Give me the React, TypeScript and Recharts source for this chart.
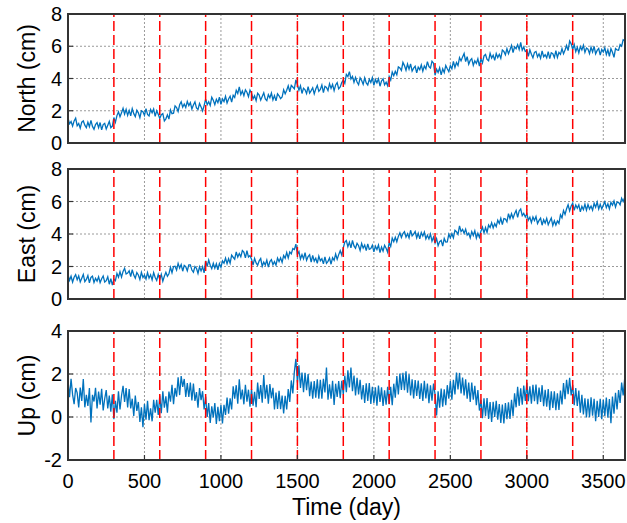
import { LineChart, Line, XAxis, YAxis, CartesianGrid, ReferenceLine } from 'recharts';

// daily GNSS position residuals, sampled every STEP days
const STEP = 10;

const north = [
  1.55, 1.19, 1.33, 1.05, 1.37, 1.54, 1.07, 1.21, 0.92, 1.29, 1.37, 1.11, 0.95, 1.29, 1.01, 1.40, 1.03, 0.85, 1.14, 1.26,
  0.95, 1.27, 0.81, 1.14, 1.22, 0.87, 1.10, 1.34, 0.95, 1.05, 1.58, 1.28, 1.70, 1.93, 1.63, 1.87, 2.15, 1.79, 2.09, 1.71,
  2.02, 1.69, 2.13, 1.82, 1.64, 2.03, 1.87, 1.57, 2.00, 1.94, 1.71, 2.13, 1.77, 1.68, 2.08, 1.87, 2.11, 1.65, 2.00, 1.78,
  1.52, 1.75, 1.82, 1.37, 1.50, 1.75, 1.48, 2.05, 1.82, 1.85, 2.30, 2.20, 1.95, 2.37, 2.56, 2.22, 2.42, 2.20, 2.58, 2.32,
  2.50, 2.11, 2.36, 2.55, 2.17, 2.08, 2.45, 2.24, 1.99, 2.32, 2.72, 2.37, 2.56, 2.33, 2.84, 2.65, 2.38, 2.71, 2.50, 2.84,
  2.40, 2.73, 2.57, 2.89, 2.48, 2.73, 2.90, 2.53, 2.96, 2.83, 3.27, 3.07, 3.48, 3.00, 3.23, 2.94, 3.30, 3.15, 2.87, 3.28,
  3.10, 2.74, 2.93, 2.63, 3.09, 2.97, 2.66, 2.88, 3.11, 2.73, 2.63, 3.00, 2.80, 3.10, 2.67, 2.94, 2.61, 3.05, 2.93, 2.75,
  2.85, 3.30, 3.05, 3.27, 3.55, 3.18, 3.57, 3.47, 3.36, 3.92, 3.63, 3.27, 3.55, 3.07, 3.40, 3.30, 3.06, 3.49, 3.10, 3.25,
  3.43, 3.05, 3.35, 3.57, 3.20, 3.32, 3.60, 3.13, 3.52, 3.45, 3.25, 3.68, 3.39, 3.63, 3.25, 3.60, 3.75, 3.36, 3.47, 3.75,
  3.90, 3.70, 4.25, 4.12, 4.43, 3.97, 4.13, 3.76, 4.07, 3.78, 3.61, 4.04, 3.88, 3.64, 4.04, 3.73, 3.60, 3.95, 3.75, 4.05,
  3.58, 3.94, 3.73, 3.98, 3.52, 3.85, 3.98, 3.61, 3.77, 3.55, 4.12, 3.90, 4.40, 4.17, 4.45, 4.23, 4.72, 4.65, 4.50, 5.00,
  4.80, 4.51, 4.90, 4.58, 4.91, 4.46, 4.64, 4.76, 4.35, 4.70, 4.55, 4.84, 4.45, 4.78, 4.60, 5.05, 4.74, 4.65, 5.07, 4.95,
  4.20, 4.58, 4.37, 4.67, 4.23, 4.60, 4.37, 4.80, 4.60, 4.42, 4.80, 4.60, 5.06, 4.68, 4.99, 4.80, 5.30, 5.09, 5.34, 5.55,
  5.05, 5.35, 4.88, 5.12, 5.23, 4.82, 5.10, 4.93, 5.22, 4.77, 5.22, 4.97, 5.40, 5.49, 5.18, 5.10, 5.56, 5.27, 5.45, 5.12,
  5.55, 5.30, 5.50, 5.25, 5.77, 5.68, 5.47, 5.85, 5.53, 5.78, 6.05, 5.61, 5.96, 5.85, 6.10, 5.80, 6.24, 5.75, 5.95, 5.68,
  5.75, 5.38, 5.78, 5.50, 5.28, 5.62, 5.68, 5.34, 5.53, 5.25, 5.71, 5.35, 5.47, 5.28, 5.67, 5.23, 5.60, 5.54, 5.30, 5.72,
  5.30, 5.62, 5.50, 5.85, 5.53, 5.77, 6.05, 5.73, 6.33, 6.15, 5.80, 6.10, 5.66, 5.93, 5.59, 5.98, 5.77, 6.06, 5.62, 5.89,
  5.82, 5.54, 5.94, 5.65, 5.99, 5.53, 5.74, 5.86, 5.45, 5.80, 5.64, 5.90, 5.49, 5.78, 5.38, 5.85, 5.63, 5.31, 5.86, 5.77,
  5.75, 6.10, 6.00, 6.40, 6.35,
];

const east = [
  1.50, 1.15, 1.40, 1.04, 1.34, 1.50, 1.18, 1.42, 1.05, 1.28, 1.51, 1.07, 1.20, 1.44, 0.99, 1.33, 1.41, 1.02, 1.27, 1.10,
  1.37, 1.01, 1.25, 1.42, 1.04, 1.13, 1.37, 0.91, 1.25, 0.85, 1.22, 1.13, 1.57, 1.34, 1.68, 1.35, 1.70, 1.89, 1.54, 1.60,
  1.74, 1.38, 1.80, 1.47, 1.28, 1.63, 1.48, 1.20, 1.64, 1.33, 1.47, 1.23, 1.62, 1.28, 1.49, 1.18, 1.62, 1.32, 1.14, 1.51,
  1.20, 1.52, 1.10, 1.40, 1.64, 1.40, 1.55, 1.95, 1.62, 2.00, 2.02, 1.78, 2.19, 1.90, 2.12, 1.71, 2.07, 1.99, 1.73, 2.10,
  2.10, 1.78, 1.65, 2.00, 1.89, 1.57, 1.98, 1.73, 1.99, 1.61, 2.35, 2.00, 2.40, 2.08, 1.87, 2.20, 1.90, 2.17, 1.80, 2.18,
  1.95, 2.35, 2.20, 2.52, 2.17, 2.48, 2.20, 2.70, 2.57, 2.45, 2.90, 2.58, 2.80, 2.60, 2.98, 2.88, 2.53, 2.97, 2.58, 2.67,
  2.45, 2.09, 2.50, 2.22, 2.08, 2.35, 2.49, 2.01, 2.27, 2.09, 2.40, 1.96, 2.30, 2.42, 2.11, 2.30, 2.08, 2.52, 2.30, 2.53,
  2.25, 2.68, 2.51, 2.86, 2.52, 2.90, 2.78, 3.10, 3.04, 3.38, 2.75, 2.92, 2.46, 2.73, 2.47, 2.85, 2.38, 2.61, 2.72, 2.27,
  2.68, 2.33, 2.51, 2.19, 2.64, 2.35, 2.48, 2.16, 2.59, 2.20, 2.32, 2.52, 2.14, 2.54, 2.38, 2.77, 2.44, 2.73, 2.97, 2.70,
  3.15, 3.50, 3.60, 3.22, 3.50, 3.15, 3.60, 3.27, 3.12, 3.43, 3.28, 2.99, 3.42, 3.13, 3.32, 2.98, 3.39, 3.06, 3.10, 3.31,
  2.90, 3.25, 3.05, 3.32, 2.85, 3.20, 2.95, 3.30, 3.12, 2.88, 3.47, 3.24, 3.75, 3.53, 3.80, 3.52, 3.85, 4.07, 3.78, 4.03,
  4.15, 3.81, 4.02, 3.76, 4.23, 3.88, 3.99, 4.15, 3.76, 4.05, 3.70, 4.09, 3.87, 4.12, 3.70, 3.93, 3.70, 4.00, 3.56, 3.81,
  3.45, 3.72, 3.28, 3.53, 3.61, 3.25, 3.72, 3.50, 3.51, 3.99, 3.77, 4.02, 3.76, 4.23, 4.14, 3.98, 4.50, 4.15, 4.29, 4.04,
  4.30, 3.93, 4.05, 3.76, 4.15, 3.91, 4.20, 3.75, 4.05, 3.80, 4.17, 4.42, 4.07, 4.40, 4.10, 4.55, 4.40, 4.70, 4.38, 4.64,
  4.45, 4.85, 4.65, 4.97, 4.58, 4.95, 4.92, 4.75, 5.25, 4.95, 5.25, 4.97, 5.25, 5.45, 5.03, 5.42, 5.54, 5.13, 5.27, 5.05,
  5.25, 4.85, 5.03, 4.70, 5.05, 4.83, 5.08, 4.64, 4.84, 4.98, 4.54, 4.88, 4.67, 4.96, 4.57, 4.79, 4.98, 4.52, 4.81, 4.55,
  4.80, 4.65, 5.18, 5.00, 5.44, 5.20, 5.55, 5.80, 5.42, 5.73, 5.90, 5.46, 5.78, 5.59, 5.80, 5.36, 5.70, 5.50, 5.83, 5.47,
  5.82, 5.54, 5.72, 5.46, 5.89, 5.65, 5.96, 5.54, 5.83, 5.54, 5.77, 5.98, 5.62, 5.86, 5.54, 5.95, 5.77, 6.03, 5.66, 5.96,
  5.95, 5.80, 6.20, 6.00, 6.25,
];

const up = [
  1.70, 0.92, 1.78, 1.04, 0.60, 1.35, 1.12, 0.45, 1.37, 0.75, 1.77, 0.45, 1.03, 0.51, 1.35, -0.25, 1.03, 0.72, 1.36, 0.40,
  1.18, 0.57, 1.31, 0.31, 0.85, 1.25, 0.40, 1.00, 0.25, 1.05, -0.10, 0.75, 0.20, 1.20, 0.35, 1.00, 1.45, 0.70, 1.35, 0.45,
  1.30, 0.40, 0.85, 0.05, 1.00, 0.28, 0.70, -0.23, 0.45, -0.48, 0.60, -0.13, 0.75, -0.15, 0.40, -0.20, 0.80, 0.20, 0.80, 0.10,
  1.00, 0.18, 1.20, 0.43, 0.96, 0.20, 1.18, 0.71, 1.50, 0.60, 1.35, 0.95, 1.85, 1.02, 1.90, 1.40, 1.77, 0.93, 1.58, 0.93,
  1.60, 0.77, 1.55, 0.75, 1.16, 0.43, 1.35, 0.78, 1.20, 0.35, 0.95, 0.00, 0.65, -0.28, 0.50, -0.02, 0.65, -0.32, 0.47, -0.19,
  0.55, -0.30, 0.57, 0.10, 0.90, 0.15, 0.87, 0.35, 1.43, 0.85, 1.48, 0.62, 1.75, 0.82, 1.28, 0.59, 1.50, 0.71, 1.27, 0.48,
  1.30, 0.53, 1.17, 0.46, 1.60, 0.84, 1.48, 0.67, 1.95, 0.85, 1.50, 0.62, 1.53, 0.87, 1.36, 0.35, 1.14, 0.38, 1.22, 0.36,
  1.00, 0.17, 0.98, 0.35, 1.30, 0.70, 1.70, 1.10, 2.10, 2.70, 1.60, 2.40, 1.35, 2.07, 1.15, 2.05, 1.25, 2.00, 0.97, 1.65,
  0.85, 1.67, 0.90, 1.75, 0.85, 1.73, 0.85, 1.78, 1.14, 2.30, 0.80, 1.52, 0.85, 1.68, 0.56, 1.55, 0.93, 1.67, 0.88, 1.68,
  1.05, 1.93, 1.15, 2.17, 1.38, 2.30, 1.20, 1.93, 1.00, 1.82, 1.05, 1.73, 0.82, 1.48, 0.65, 1.57, 0.75, 1.58, 0.61, 1.40,
  0.65, 1.38, 0.52, 1.46, 0.70, 1.38, 0.51, 1.24, 0.57, 1.40, 0.60, 1.40, 0.55, 1.55, 0.90, 1.90, 1.05, 2.02, 1.26, 2.05,
  1.25, 2.12, 1.13, 1.99, 1.00, 1.75, 0.86, 1.72, 0.98, 1.70, 0.84, 1.57, 0.75, 1.68, 0.86, 1.55, 0.64, 1.47, 0.76, 1.55,
  1.05, 0.07, 1.19, 0.43, 1.32, 0.48, 1.29, 0.55, 1.48, 0.85, 1.67, 0.80, 1.73, 1.05, 2.07, 1.28, 2.05, 1.10, 1.83, 1.00,
  1.75, 0.85, 1.60, 0.70, 1.60, 0.80, 1.45, 0.55, 1.25, 0.30, 0.80, -0.05, 0.87, 0.05, 0.88, -0.09, 0.69, -0.23, 0.71, 0.00,
  0.75, -0.12, 0.60, -0.28, 0.58, -0.30, 0.65, -0.10, 0.68, -0.09, 0.80, 0.05, 1.10, 0.45, 1.40, 0.52, 1.33, 0.57, 1.46, 0.75,
  1.60, 0.74, 1.43, 0.62, 1.50, 0.73, 1.51, 0.59, 1.37, 0.70, 1.48, 0.50, 1.27, 0.48, 1.30, 0.32, 1.20, 0.42, 1.19, 0.32,
  1.10, 0.33, 1.23, 0.58, 1.58, 0.83, 1.73, 1.06, 1.82, 1.00, 1.50, 0.55, 1.35, 0.51, 1.23, 0.20, 1.03, 0.12, 0.87, -0.02,
  0.85, -0.01, 0.92, 0.06, 0.85, -0.20, 0.75, 0.00, 0.85, -0.10, 0.80, 0.05, 0.90, -0.03, 0.84, -0.29, 0.95, 0.15, 1.12, 0.35,
  1.25, 0.65, 1.60, 1.00, 1.80,
];

const days = north.map((_, i) => i * STEP);
const breakDays = [300, 600, 900, 1200, 1500, 1800, 2100, 2400, 2700, 3000, 3300];
const xTicks = [0, 500, 1000, 1500, 2000, 2500, 3000, 3500];
const neTicks = [0, 2, 4, 6, 8];
const upTicks = [-2, 0, 2, 4];
const X_MAX = 3642;

const data = days.map((d, i) => ({ day: d, north: north[i], east: east[i], up: up[i] }));

const FONT = 'Arial, "Liberation Sans", Helvetica, sans-serif';
const FRAME = '#333333';
const BLUE = '#0072BD';
const TICK_LEN = 5;
const X_GAP = 21;
const Y_GAP = 6;
const PLOT_LEFT = 68;
const PLOT_RIGHT_MARGIN = 2;
const CHART_W = 627;

function BottomTick(props: any) {
  const { x, y, payload, showLabel } = props;
  const axisY = y - X_GAP;
  return (
    <g>
      <line x1={x} x2={x} y1={axisY} y2={axisY - TICK_LEN} stroke={FRAME} strokeWidth={1.2} />
      {showLabel && (
        <text x={x} y={y} dy="0.355em" textAnchor="middle" fontSize={20} fontFamily={FONT} fill="#000">
          {payload.value}
        </text>
      )}
    </g>
  );
}

function TopTick(props: any) {
  const { x, y } = props;
  return <line x1={x} x2={x} y1={y} y2={y + TICK_LEN} stroke={FRAME} strokeWidth={1.2} />;
}

function LeftTick(props: any) {
  const { x, y, payload } = props;
  const axisX = x + Y_GAP;
  return (
    <g>
      <line x1={axisX} x2={axisX + TICK_LEN} y1={y} y2={y} stroke={FRAME} strokeWidth={1.2} />
      <text x={x} y={y} dy="0.355em" textAnchor="end" fontSize={20} fontFamily={FONT} fill="#000">
        {payload.value}
      </text>
    </g>
  );
}

function RightTick(props: any) {
  const { x, y } = props;
  return <line x1={x - TICK_LEN} x2={x} y1={y} y2={y} stroke={FRAME} strokeWidth={1.2} />;
}

function Panel({ dataKey, label, domain, ticks, showX, height, top, bottom }: {
  dataKey: string; label: string; domain: [number, number]; ticks: number[];
  showX: boolean; height: number; top: number; bottom: number;
}) {
  const xAxisH = showX ? 63 : 0;
  const plotH = height - 14 - bottom - xAxisH;
  return (
    <div style={{ position: 'absolute', left: 0, top }}>
      <LineChart
        width={CHART_W}
        height={height}
        data={data}
        margin={{ top: 14, right: PLOT_RIGHT_MARGIN, bottom, left: 0 }}
      >
        <CartesianGrid stroke="#808080" strokeDasharray="2 2" strokeWidth={0.8} />
        <XAxis
          dataKey="day"
          type="number"
          domain={[0, X_MAX]}
          ticks={xTicks}
          interval={0}
          allowDataOverflow
          height={xAxisH}
          tickSize={0}
          tickMargin={X_GAP}
          axisLine={false}
          tick={(p: any) => <BottomTick {...p} showLabel={showX} />}
          label={showX ? { value: 'Time (day)', position: 'insideBottom', offset: 8, fontSize: 23, fill: '#000', fontFamily: FONT } : undefined}
        />
        <XAxis
          xAxisId="top"
          orientation="top"
          type="number"
          domain={[0, X_MAX]}
          ticks={xTicks}
          interval={0}
          allowDataOverflow
          height={0}
          tickSize={0}
          tickMargin={0}
          axisLine={false}
          tick={(p: any) => <TopTick {...p} />}
        />
        <YAxis
          type="number"
          domain={domain}
          ticks={ticks}
          interval={0}
          allowDataOverflow
          width={PLOT_LEFT}
          tickSize={0}
          tickMargin={Y_GAP}
          axisLine={false}
          tick={(p: any) => <LeftTick {...p} />}
          label={{ value: label, angle: -90, position: 'insideLeft', offset: 27, fontSize: 23, fill: '#000', fontFamily: FONT, style: { textAnchor: 'middle' } }}
        />
        <YAxis
          yAxisId="right"
          orientation="right"
          type="number"
          domain={domain}
          ticks={ticks}
          interval={0}
          allowDataOverflow
          width={0}
          tickSize={0}
          tickMargin={0}
          axisLine={false}
          tick={(p: any) => <RightTick {...p} />}
        />
        <Line
          type="linear"
          dataKey={dataKey}
          stroke={BLUE}
          strokeWidth={1.3}
          dot={false}
          isAnimationActive={false}
        />
        {breakDays.map((d) => (
          <ReferenceLine key={d} x={d} stroke="#ff0000" strokeWidth={1.5} strokeDasharray="10 4" />
        ))}
      </LineChart>
      {/* box around the plot area */}
      <div
        style={{
          position: 'absolute',
          left: PLOT_LEFT - 1,
          top: 13,
          width: CHART_W - PLOT_LEFT - PLOT_RIGHT_MARGIN + 2,
          height: plotH + 2,
          boxSizing: 'border-box',
          border: `2px solid ${FRAME}`,
          pointerEvents: 'none',
        }}
      />
    </div>
  );
}

export default function App() {
  return (
    <div style={{ position: 'absolute', left: 0, top: 0, width: 627, height: 523, background: '#fff', fontFamily: FONT }}>
      <Panel dataKey="north" label="North (cm)" domain={[0, 8]} ticks={neTicks} showX={false} height={160} top={0} bottom={17} />
      <Panel dataKey="east" label="East (cm)" domain={[0, 8]} ticks={neTicks} showX={false} height={161} top={155} bottom={17} />
      <Panel dataKey="up" label="Up (cm)" domain={[-2, 4]} ticks={upTicks} showX height={206} top={317} bottom={0} />
    </div>
  );
}
